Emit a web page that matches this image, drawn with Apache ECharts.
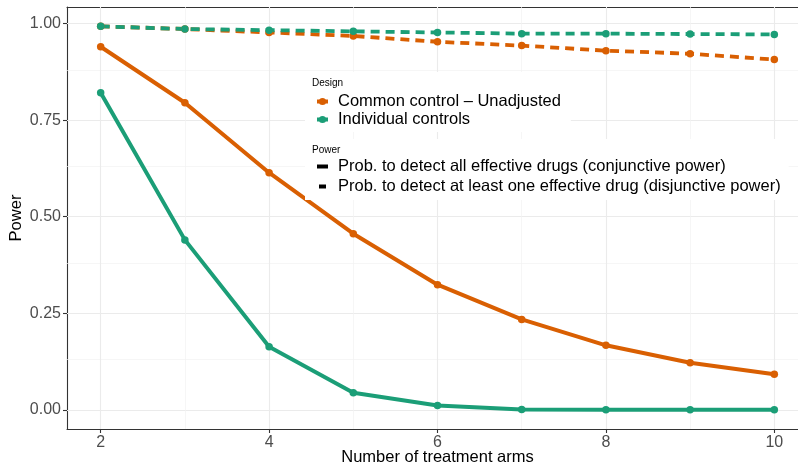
<!DOCTYPE html>
<html>
<head>
<meta charset="utf-8">
<script src="https://cdn.jsdelivr.net/npm/echarts@6/dist/echarts.min.js"></script>
<style>html,body{margin:0;padding:0;background:#fff;}#c{width:798px;height:468px;}</style>
</head>
<body>
<div id="c"></div>
<script>
// ---- data ----
const arms = [2, 3, 4, 5, 6, 7, 8, 9, 10];
const commonConj = [0.940, 0.795, 0.614, 0.456, 0.324, 0.234, 0.167, 0.122, 0.092];
const indivConj  = [0.821, 0.440, 0.163, 0.044, 0.011, 0.001, 0.000, 0.000, 0.000];
const commonDisj = [0.993, 0.986, 0.977, 0.968, 0.953, 0.943, 0.930, 0.922, 0.907];
const indivDisj  = [0.993, 0.986, 0.983, 0.980, 0.977, 0.974, 0.974, 0.973, 0.972];
const yTicks = [0, 0.25, 0.5, 0.75, 1];
const yMinor = [0.125, 0.375, 0.625, 0.875];
const xTicks = [2, 4, 6, 8, 10];
const xMinor = [3, 5, 7, 9];
const designNames = ['Common control \u2013 Unadjusted', 'Individual controls'];
const powerNames = ['Prob. to detect all effective drugs (conjunctive power)',
                    'Prob. to detect at least one effective drug (disjunctive power)'];

const ORANGE = '#D95F02', GREEN = '#1B9E77';
const pairs = ys => arms.map((x, i) => [x, ys[i]]);
const FONT = 'Liberation Sans, Arial, Helvetica, sans-serif';

const gridLines = [];
yTicks.forEach(v => gridLines.push({yAxis: v, lineStyle: {color: '#EBEBEB', width: 1.1, type: 'solid'}}));
yMinor.forEach(v => gridLines.push({yAxis: v, lineStyle: {color: '#F2F2F2', width: 0.7, type: 'solid'}}));
xTicks.forEach(v => gridLines.push({xAxis: v, lineStyle: {color: '#EBEBEB', width: 1.1, type: 'solid'}}));
xMinor.forEach(v => gridLines.push({xAxis: v, lineStyle: {color: '#F2F2F2', width: 0.7, type: 'solid'}}));

function dataSeries(name, ys, color, dashed) {
  return {
    name: name, type: 'line', data: pairs(ys), z: 3,
    symbol: 'circle', symbolSize: 7.5, showSymbol: true,
    itemStyle: {color: color},
    lineStyle: {color: color, width: dashed ? 3.8 : 4, type: dashed ? [9, 6] : 'solid', cap: 'butt'},
    animation: false, silent: true
  };
}

const axisLineStyle = {show: true, onZero: false, lineStyle: {color: '#333', width: 1.1}};

const chart = echarts.init(document.getElementById('c'), null, {renderer: 'canvas'});
chart.setOption({
  backgroundColor: '#fff',
  animation: false,
  textStyle: {fontFamily: FONT},
  title: [
    {text: 'Design', left: 312, top: 78, textStyle: {fontSize: 10, fontWeight: 'normal', color: '#000', fontFamily: FONT}, padding: 0, z: 10},
    {text: 'Power', left: 312, top: 145, textStyle: {fontSize: 10, fontWeight: 'normal', color: '#000', fontFamily: FONT}, padding: 0, z: 10}
  ],
  grid: {left: 67, top: 7, right: -10, bottom: 39, show: false, containLabel: false, outerBoundsMode: 'none'},
  xAxis: [{
    type: 'value', min: 1.6, max: 10.4,
    name: 'Number of treatment arms', nameLocation: 'middle', nameGap: 20, nameMoveOverlap: false,
    nameTextStyle: {fontSize: 16.5, color: '#000', fontFamily: FONT},
    axisLine: axisLineStyle,
    axisTick: {show: true, length: 4, lineStyle: {color: '#333', width: 1.1}, customValues: xTicks},
    axisLabel: {color: '#4D4D4D', fontSize: 16, margin: 6, customValues: xTicks, fontFamily: FONT},
    splitLine: {show: false}
  }, {
    type: 'value', min: 1.6, max: 10.4, position: 'top',
    axisLine: axisLineStyle, axisTick: {show: false}, axisLabel: {show: false}, splitLine: {show: false}
  }],
  yAxis: {
    type: 'value', min: -0.0497, max: 1.043,
    name: 'Power', nameLocation: 'middle', nameGap: 42, nameMoveOverlap: false,
    nameTextStyle: {fontSize: 16.5, color: '#000', fontFamily: FONT},
    axisLine: axisLineStyle,
    axisTick: {show: true, length: 4, lineStyle: {color: '#333', width: 1.1}, customValues: yTicks},
    axisLabel: {color: '#4D4D4D', fontSize: 16, margin: 6, customValues: yTicks, formatter: v => v.toFixed(2), fontFamily: FONT},
    splitLine: {show: false}
  },
  legend: [
    {
      data: designNames, orient: 'vertical', left: 305, top: 72,
      padding: [21, 10, 4, 10], itemGap: 1, itemWidth: 11, itemHeight: 9,
      backgroundColor: '#fff', selectedMode: false,
      lineStyle: {width: 4},
      textStyle: {fontSize: 16.5, color: '#000', lineHeight: 15, fontFamily: FONT, padding: [0, 0, 0, 5]}
    },
    {
      data: powerNames, orient: 'vertical', left: 305, top: 139,
      padding: [19, 8, 5, 10], itemGap: 3, itemWidth: 11, itemHeight: 9,
      backgroundColor: '#fff', selectedMode: false,
      lineStyle: {width: 4},
      textStyle: {fontSize: 16.5, color: '#000', lineHeight: 15, fontFamily: FONT, padding: [0, 0, 0, 5]}
    }
  ],
  series: [
    {
      name: '__grid', type: 'line', data: [], silent: true, z: 1,
      markLine: {silent: true, symbol: 'none', z: 1, label: {show: false}, animation: false, data: gridLines}
    },
    // legend-only entries
    {name: designNames[0], type: 'line', data: [], symbol: 'circle', itemStyle: {color: ORANGE}, lineStyle: {color: ORANGE, width: 4}},
    {name: designNames[1], type: 'line', data: [], symbol: 'circle', itemStyle: {color: GREEN}, lineStyle: {color: GREEN, width: 4}},
    {name: powerNames[0], type: 'line', data: [], symbol: 'none', itemStyle: {color: '#000', opacity: 0}, lineStyle: {color: '#000', width: 4}},
    {name: powerNames[1], type: 'line', data: [], symbol: 'none', itemStyle: {color: '#000', opacity: 0}, lineStyle: {color: '#000', width: 4, type: [7, 100], dashOffset: -2}},
    // data
    dataSeries('Common control \u2013 conjunctive', commonConj, ORANGE, false),
    dataSeries('Individual controls \u2013 conjunctive', indivConj, GREEN, false),
    dataSeries('Common control \u2013 disjunctive', commonDisj, ORANGE, true),
    dataSeries('Individual controls \u2013 disjunctive', indivDisj, GREEN, true)
  ]
});
</script>
</body>
</html>
